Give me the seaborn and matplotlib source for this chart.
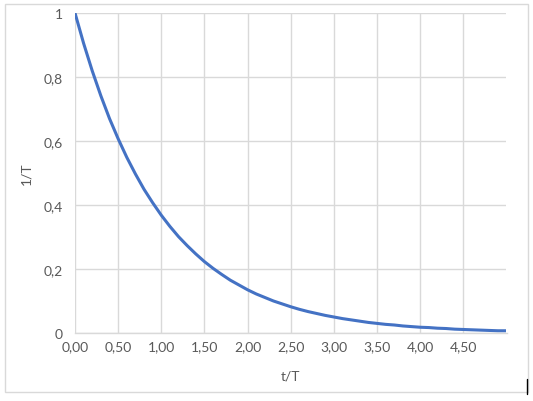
import numpy as np
import pandas as pd
import matplotlib
matplotlib.use("Agg")
import matplotlib.pyplot as plt
import seaborn as sns
from matplotlib.patches import Rectangle
from matplotlib.lines import Line2D

# Data (t/T step 0.1)
t_over_T = [0.0, 0.1, 0.2, 0.3, 0.4, 0.5, 0.6, 0.7, 0.8, 0.9,
            1.0, 1.1, 1.2, 1.3, 1.4, 1.5, 1.6, 1.7, 1.8, 1.9,
            2.0, 2.1, 2.2, 2.3, 2.4, 2.5, 2.6, 2.7, 2.8, 2.9,
            3.0, 3.1, 3.2, 3.3, 3.4, 3.5, 3.6, 3.7, 3.8, 3.9,
            4.0, 4.1, 4.2, 4.3, 4.4, 4.5, 4.6, 4.7, 4.8, 4.9, 5.0]
inv_T = [1.000, 0.905, 0.819, 0.741, 0.670, 0.607, 0.549, 0.497, 0.449, 0.407,
         0.368, 0.333, 0.301, 0.273, 0.247, 0.223, 0.202, 0.183, 0.165, 0.150,
         0.135, 0.122, 0.111, 0.100, 0.091, 0.082, 0.074, 0.067, 0.061, 0.055,
         0.050, 0.045, 0.041, 0.037, 0.033, 0.030, 0.027, 0.025, 0.022, 0.020,
         0.018, 0.017, 0.015, 0.014, 0.012, 0.011, 0.010, 0.009, 0.008, 0.007, 0.007]
x_ticks = [0.0, 0.5, 1.0, 1.5, 2.0, 2.5, 3.0, 3.5, 4.0, 4.5]
x_tick_labels = ["0,00", "0,50", "1,00", "1,50", "2,00", "2,50", "3,00", "3,50", "4,00", "4,50"]
y_ticks = [0, 0.2, 0.4, 0.6, 0.8, 1.0]
y_tick_labels = ["0", "0,2", "0,4", "0,6", "0,8", "1"]

sns.set_theme(style="white")
plt.rcParams['font.family'] = ['Lato', 'DejaVu Sans']

df = pd.DataFrame({"t/T": t_over_T, "1/T": inv_T})

fig = plt.figure(figsize=(5.33, 4.02), dpi=100)
ax = fig.add_axes([75/533, 1-334/402, (506.5-75)/533, (334-14)/402])

sns.lineplot(data=df, x="t/T", y="1/T", ax=ax, color="#4472C4", linewidth=2.2)

grid_c = "#d9d9d9"
txt_c = "#595959"
fs = 10
ax.set_xlim(0, 5.0)
ax.set_ylim(0, 1)
ax.set_xticks(x_ticks)
ax.set_xticklabels(x_tick_labels)
ax.set_yticks(y_ticks)
ax.set_yticklabels(y_tick_labels)
ax.grid(True, color=grid_c, linewidth=1.0)
ax.set_axisbelow(True)
for side in ["top", "right", "left"]:
    ax.spines[side].set_visible(False)
ax.spines["bottom"].set_color(grid_c)
ax.spines["bottom"].set_linewidth(1.0)
ax.tick_params(axis="both", length=0, labelsize=fs, labelcolor=txt_c)
ax.tick_params(axis="x", pad=5)
ax.tick_params(axis="y", pad=9)
ax.set_xlabel("t/T", fontsize=fs, color=txt_c, labelpad=13)
ax.set_ylabel("1/T", fontsize=fs, color=txt_c, labelpad=8)

# chart-area border
fig.patches.append(Rectangle((5/533, 1-393/402), (528-5)/533, (393-5)/402,
                             transform=fig.transFigure, fill=False,
                             edgecolor=grid_c, linewidth=1.0))
fig.lines.append(Line2D([527/533, 527/533], [1-395/402, 1-380/402],
                        transform=fig.transFigure, color="black", linewidth=1.0))

fig.savefig("out.png", dpi=100)
